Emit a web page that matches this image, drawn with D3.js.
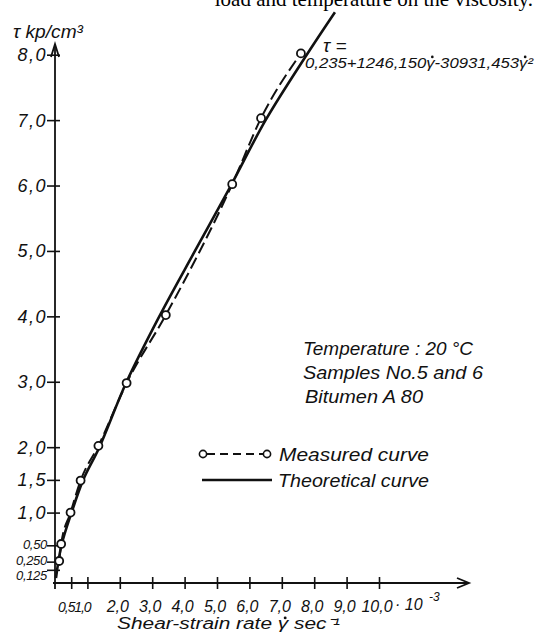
<!DOCTYPE html>
<html>
<head>
<meta charset="utf-8">
<script src="https://cdn.jsdelivr.net/npm/d3@7"></script>
<style>
  body { margin: 0; background: #fff; }
  svg { display: block; }
  .lbl { font-family: "Liberation Sans Narrow", "Liberation Sans", sans-serif; font-style: italic; fill: #111; }
</style>
</head>
<body>
<svg id="chart"></svg>
<script>
// measured points (shear-strain rate in 10^-3 sec^-1, tau in kp/cm3)
const measuredX = [0.13, 0.19, 0.48, 0.79, 1.34, 2.21, 3.42, 5.47, 6.36, 7.59];
const measuredY = [0.26, 0.52, 1.0, 1.49, 2.02, 2.98, 4.02, 6.02, 7.03, 8.02];

// theoretical curve
const theoX = [0.03, 0.2, 0.51, 0.87, 1.37, 2.21, 3.22, 4.32, 5.43, 6.5, 7.77, 8.64];
const theoY = [0.0, 0.5, 1.0, 1.5, 2.0, 3.0, 4.0, 5.0, 6.0, 7.0, 8.0, 8.65];

const xTicks = [0.5, 1, 2, 3, 4, 5, 6, 7, 8, 9, 10];
const xTickLabels = ["0,5", "1,0", "2,0", "3,0", "4,0", "5,0", "6,0", "7,0", "8,0", "9,0", "10,0"];
const yTicks = [0.125, 0.25, 0.5, 1, 1.5, 2, 3, 4, 5, 6, 7, 8];
const yTickLabels = ["0,125", "0,250", "0,50", "1,0", "1,5", "2,0", "3,0", "4,0", "5,0", "6,0", "7,0", "8,0"];

const totalWidth = 536, totalHeight = 632;

const svg = d3.select("#chart")
    .attr("width", totalWidth)
    .attr("height", totalHeight);

const x = d3.scaleLinear().domain([0, 10]).range([55, 379]);
const y = d3.scaleLinear().domain([0, 8]).range([578, 54.7]);
const axisY = y(0) + 5; // the drawn x axis sits a little below zero

// put a dot over each gamma of a text (gamma-dot)
function dotGammas(sel) {
    const node = sel.node();
    const s = node.textContent;
    const fs = parseFloat(sel.style("font-size"));
    for (let i = 0; i < s.length; i++) {
        if (s[i] !== "\u03b3") continue;
        const b = node.getExtentOfChar(i);
        svg.append("circle")
            .attr("cx", b.x + b.width * 0.55 + fs * 0.1)
            .attr("cy", b.y + b.height * 0.17)
            .attr("r", fs * 0.09)
            .attr("fill", "#111");
    }
}

// clipped caption from the page above
svg.append("text")
    .attr("x", 533)
    .attr("y", 6)
    .attr("text-anchor", "end")
    .style("font-family", "'Liberation Serif', serif")
    .style("font-size", "21px")
    .text("load and temperature on the viscosity.");

// X axis ticks
const xAxis = svg.append("g")
    .attr("transform", "translate(0," + axisY + ")")
    .call(d3.axisBottom(x).tickValues(xTicks).tickSize(6).tickFormat(""));
xAxis.select(".domain").remove();
xAxis.selectAll(".tick line").attr("y1", -6).attr("stroke", "#111").attr("stroke-width", 1.6);

// Y axis ticks
const yAxis = svg.append("g")
    .attr("transform", "translate(" + x(0) + ",0)")
    .call(d3.axisLeft(y).tickValues(yTicks).tickSize(8).tickFormat(""));
yAxis.select(".domain").remove();
yAxis.selectAll(".tick line").attr("x1", 5).attr("stroke", "#111").attr("stroke-width", 1.6);

// axis lines with open arrows
const axisG = svg.append("g").attr("stroke", "#111").attr("stroke-width", 1.8).attr("fill", "none");
axisG.append("line").attr("x1", x(0) - 2).attr("x2", 469).attr("y1", axisY).attr("y2", axisY);
axisG.append("path").attr("d", "M457," + (axisY - 5) + " L469," + axisY + " L457," + (axisY + 5));
axisG.append("line").attr("x1", x(0)).attr("x2", x(0)).attr("y1", axisY + 6).attr("y2", 44);
axisG.append("path").attr("d", "M" + (x(0) - 4) + ",57 L" + x(0) + ",44 L" + (x(0) + 4) + ",57");

// y tick labels
const yShift = { 0.125: 5, 0.25: -1, 0.5: -1 };
svg.append("g").selectAll("text")
    .data(yTicks)
    .join("text")
    .attr("class", "lbl")
    .attr("x", 47)
    .attr("y", d => y(d) + (yShift[d] || 0))
    .attr("dy", "0.36em")
    .attr("text-anchor", "end")
    .style("font-size", d => d < 1 ? "13px" : "18px")
    .style("letter-spacing", d => d < 1 ? "-0.3px" : "1.5px")
    .text((d, i) => yTickLabels[i]);

// x tick labels
svg.append("g").selectAll("text")
    .data(xTicks)
    .join("text")
    .attr("class", "lbl")
    .attr("x", d => x(d) - (d < 1.5 ? 5 : 2))
    .attr("y", 612)
    .attr("text-anchor", "middle")
    .style("font-size", d => d < 1.5 ? "14px" : "16px")
    .style("letter-spacing", d => d < 1.5 ? "-1px" : "0px")
    .text((d, i) => xTickLabels[i]);

svg.append("text").attr("class", "lbl")
    .attr("x", 395).attr("y", 610)
    .style("font-size", "16px")
    .text("\u00b7 10");
svg.append("text").attr("class", "lbl")
    .attr("x", 429).attr("y", 601)
    .style("font-size", "12px")
    .text("-3");

// axis titles
const xTitle = svg.append("text").attr("class", "lbl")
    .attr("x", 117).attr("y", 629)
    .attr("textLength", 223).attr("lengthAdjust", "spacingAndGlyphs")
    .style("font-size", "16px")
    .text("Shear-strain rate \u03b3 sec\u207b\u00b9");
dotGammas(xTitle);

svg.append("text").attr("class", "lbl")
    .attr("x", 13).attr("y", 38)
    .attr("textLength", 70).attr("lengthAdjust", "spacingAndGlyphs")
    .style("font-size", "18px")
    .text("\u03c4 kp/cm\u00b3");

// equation
svg.append("text").attr("class", "lbl")
    .attr("x", 323).attr("y", 52)
    .style("font-size", "19px")
    .text("\u03c4 =");
const eq = svg.append("text").attr("class", "lbl")
    .attr("x", 305).attr("y", 68)
    .attr("textLength", 228).attr("lengthAdjust", "spacingAndGlyphs")
    .style("font-size", "15px")
    .text("0,235+1246,150\u03b3-30931,453\u03b3\u00b2");
dotGammas(eq);

// info block
const info = ["Temperature : 20 \u00b0C", "Samples No.5 and 6", "Bitumen A 80"];
const infoW = [170, 180, 118];
svg.append("g").selectAll("text")
    .data(info)
    .join("text")
    .attr("class", "lbl")
    .attr("x", (d, i) => i === 2 ? 305 : 303)
    .attr("y", (d, i) => 355 + i * 24)
    .attr("textLength", (d, i) => infoW[i])
    .attr("lengthAdjust", "spacingAndGlyphs")
    .style("font-size", "19px")
    .text(d => d);

// curves
const measured = measuredX.map((v, i) => ({ x: v, y: measuredY[i] }));
const theo = theoX.map((v, i) => ({ x: v, y: theoY[i] }));

const theoLine = d3.line()
    .curve(d3.curveCatmullRom)
    .x(d => x(d.x))
    .y(d => y(d.y));

const measLine = d3.line()
    .curve(d3.curveMonotoneX)
    .x(d => x(d.x))
    .y(d => y(d.y));

svg.append("path")
    .attr("d", theoLine(theo))
    .attr("fill", "none")
    .attr("stroke", "#111")
    .attr("stroke-width", 2.6);

svg.append("path")
    .attr("d", measLine(measured))
    .attr("fill", "none")
    .attr("stroke", "#111")
    .attr("stroke-width", 2)
    .attr("stroke-dasharray", "12,5");

svg.append("g").selectAll("circle")
    .data(measured)
    .join("circle")
    .attr("cx", d => x(d.x))
    .attr("cy", d => y(d.y))
    .attr("r", 4)
    .attr("fill", "#fff")
    .attr("stroke", "#111")
    .attr("stroke-width", 1.8);

// legend
const leg = svg.append("g");
leg.append("line")
    .attr("x1", 207).attr("x2", 263).attr("y1", 454).attr("y2", 454)
    .attr("stroke", "#111").attr("stroke-width", 2).attr("stroke-dasharray", "8,5");
leg.selectAll("circle")
    .data([203, 267])
    .join("circle")
    .attr("cx", d => d).attr("cy", 454).attr("r", 3.6)
    .attr("fill", "#fff").attr("stroke", "#111").attr("stroke-width", 1.6);
leg.append("line")
    .attr("x1", 202).attr("x2", 272).attr("y1", 480).attr("y2", 480)
    .attr("stroke", "#111").attr("stroke-width", 2.4);
leg.append("text").attr("class", "lbl")
    .attr("x", 279).attr("y", 461)
    .attr("textLength", 150).attr("lengthAdjust", "spacingAndGlyphs")
    .style("font-size", "19px")
    .text("Measured curve");
leg.append("text").attr("class", "lbl")
    .attr("x", 278).attr("y", 487)
    .attr("textLength", 151).attr("lengthAdjust", "spacingAndGlyphs")
    .style("font-size", "19px")
    .text("Theoretical curve");
</script>
</body>
</html>
